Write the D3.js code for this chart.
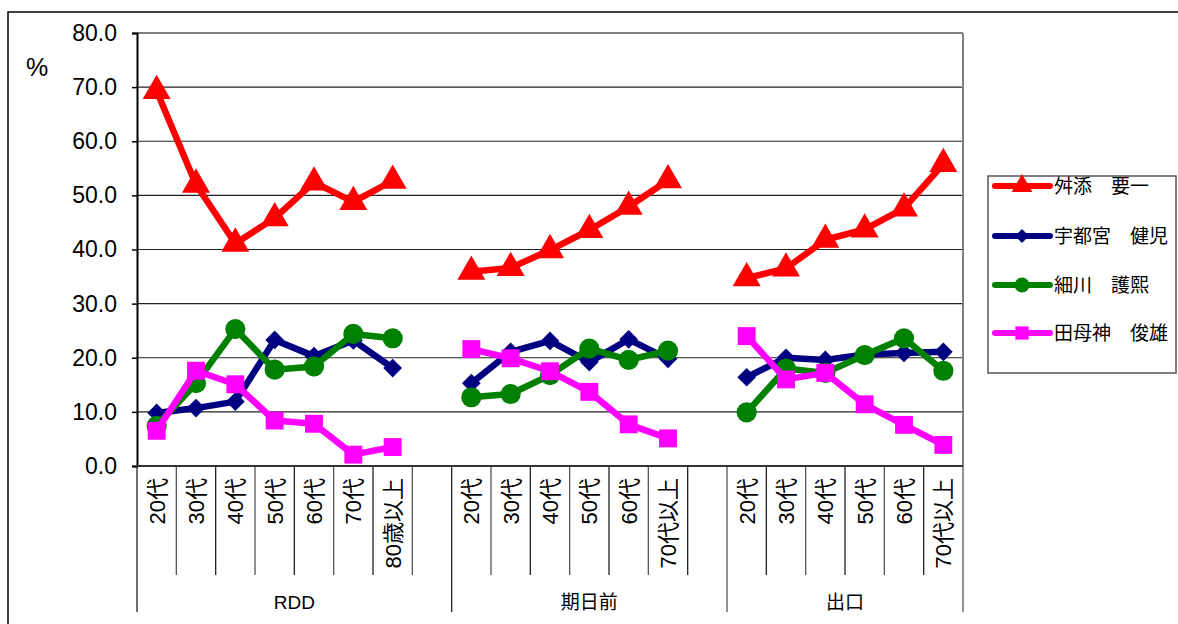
<!DOCTYPE html>
<html>
<head>
<meta charset="utf-8">
<script src="https://cdn.jsdelivr.net/npm/d3@7"></script>
<style>
  body { margin: 0; background: white; }
  text { font-family: Arial, "Liberation Sans", "Noto Sans CJK JP", sans-serif; }
</style>
</head>
<body>
<script>
const W = 1178, H = 624;

// survey groups and the age bands in each
const groups = ["RDD", "期日前", "出口"];
const rddAges = ["20代", "30代", "40代", "50代", "60代", "70代", "80歳以上"];
const earlyAges = ["20代", "30代", "40代", "50代", "60代", "70代以上"];
const exitAges = ["20代", "30代", "40代", "50代", "60代", "70代以上"];

const seriesNames = ["舛添　要一", "宇都宮　健児", "細川　護熙", "田母神　俊雄"];
const seriesColors = ["#ff0000", "#000080", "#008000", "#ff00ff"];

// values (%), per series: RDD / 期日前 / 出口
const masuzoe = [[69.3, 52.0, 41.1, 45.8, 52.4, 48.8, 52.7], [35.9, 36.6, 39.9, 43.6, 47.9, 52.8], [34.7, 36.5, 41.8, 43.7, 47.6, 55.8]];
const utsunomiya = [[9.8, 10.7, 11.9, 23.3, 20.3, 23.2, 18.1], [15.3, 21.1, 23.1, 19.2, 23.4, 19.8], [16.4, 20.0, 19.6, 20.6, 20.9, 21.1]];
const hosokawa = [[7.4, 15.3, 25.3, 17.8, 18.4, 24.4, 23.6], [12.7, 13.3, 16.8, 21.7, 19.6, 21.3], [9.9, 18.0, 17.2, 20.5, 23.6, 17.6]];
const tamogami = [[6.5, 17.6, 15.1, 8.4, 7.8, 2.1, 3.5], [21.6, 19.9, 17.5, 13.7, 7.7, 5.1], [24.0, 16.0, 17.2, 11.4, 7.6, 3.9]];
const seriesValues = [masuzoe, utsunomiya, hosokawa, tamogami];

const yTicks = [0, 10, 20, 30, 40, 50, 60, 70, 80];

// marker: symbol type, area, rotation
const markers = [
  { type: d3.symbolTriangle, size: 340, rot: 0 },
  { type: d3.symbolSquare, size: 175, rot: 45 },
  { type: d3.symbolCircle, size: 320, rot: 0 },
  { type: d3.symbolSquare, size: 320, rot: 0 }
];

// build slot list: each group gets its ages plus one empty slot (except the last)
const groupAges = [rddAges, earlyAges, exitAges];
const slots = [];
const groupSpans = [];
groupAges.forEach((ages, gi) => {
  const start = slots.length;
  ages.forEach((a, ai) => slots.push({ key: gi + "-" + ai, label: a }));
  if (gi < groupAges.length - 1) slots.push({ key: gi + "-blank", label: "" });
  groupSpans.push({ name: groups[gi], start: start, end: slots.length });
});

const plot = { left: 137, right: 963, top: 33, bottom: 466 };

const svg = d3.select("body").append("svg")
  .attr("width", W).attr("height", H);

// outer chart border
svg.append("rect")
  .attr("x", 8).attr("y", 12).attr("width", W + 10).attr("height", H + 10)
  .attr("fill", "white").attr("stroke", "black").attr("stroke-width", 1.5);

const x = d3.scaleBand()
  .domain(slots.map(d => d.key))
  .range([plot.left, plot.right])
  .paddingInner(0).paddingOuter(0);

const y = d3.scaleLinear().domain([0, 80]).range([plot.bottom, plot.top]);

// gridlines
svg.append("g").selectAll("line")
  .data(yTicks.filter(t => t > 0))
  .join("line")
  .attr("x1", plot.left).attr("x2", plot.right)
  .attr("y1", d => y(d)).attr("y2", d => y(d))
  .attr("stroke", d => d === 80 ? "#808080" : "#222")
  .attr("stroke-width", d => d === 80 ? 2 : 1.2);

// right border of plot
svg.append("line")
  .attr("x1", plot.right).attr("x2", plot.right)
  .attr("y1", plot.top).attr("y2", plot.bottom)
  .attr("stroke", "#808080").attr("stroke-width", 2);

// y axis
const yAxis = d3.axisLeft(y).tickValues(yTicks).tickFormat(d3.format(".1f")).tickSize(5).tickPadding(15);
const yg = svg.append("g").attr("transform", `translate(${plot.left},0)`).call(yAxis);
yg.select(".domain").attr("stroke", "black").attr("stroke-width", 2);
yg.selectAll(".tick line").attr("stroke", "black").attr("stroke-width", 1.5);
yg.selectAll(".tick text").attr("font-size", 23).attr("fill", "black")
  .style("font-family", "Arial, 'Liberation Sans', sans-serif");

svg.append("text").attr("x", 37).attr("y", 76)
  .attr("text-anchor", "middle").attr("font-size", 25).text("%");

// x axis: slot boundaries
const xg = svg.append("g");
const boundaries = d3.range(slots.length + 1).map(i => plot.left + i * x.bandwidth());
const groupEdges = new Set();
groupSpans.forEach(g => { groupEdges.add(g.start); groupEdges.add(g.end); });
xg.selectAll("line.tick")
  .data(boundaries)
  .join("line")
  .attr("x1", d => d).attr("x2", d => d)
  .attr("y1", plot.bottom)
  .attr("y2", (d, i) => groupEdges.has(i) ? 612 : 575)
  .attr("stroke", (d, i) => (i % 2 === 0) ? "#222" : "#555")
  .attr("stroke-width", 1.3);

xg.append("line")
  .attr("x1", plot.left).attr("x2", plot.right)
  .attr("y1", plot.bottom).attr("y2", plot.bottom)
  .attr("stroke", "#333").attr("stroke-width", 2);

// age labels, rotated
xg.selectAll("text.age")
  .data(slots.filter(d => d.label))
  .join("text")
  .attr("class", "age")
  .attr("transform", d => `translate(${x(d.key) + x.bandwidth() / 2 + 8},478) rotate(-90)`)
  .attr("text-anchor", "end")
  .attr("font-size", 22)
  .text(d => d.label);

// group labels
xg.selectAll("text.group")
  .data(groupSpans)
  .join("text")
  .attr("class", "group")
  .attr("x", d => (boundaries[d.start] + boundaries[d.end]) / 2)
  .attr("y", 609)
  .attr("text-anchor", "middle")
  .attr("font-size", 19)
  .text(d => d.name);

// series
const line = d3.line().x(d => d.x).y(d => d.y);
seriesValues.forEach((vals, si) => {
  const g = svg.append("g");
  const pts = vals.map((arr, gi) => arr.map((v, ai) => ({
    x: x(gi + "-" + ai) + x.bandwidth() / 2,
    y: y(v)
  })));
  pts.forEach(p => {
    g.append("path").attr("d", line(p))
      .attr("fill", "none").attr("stroke", seriesColors[si])
      .attr("stroke-width", 6.5).attr("stroke-linejoin", "round");
  });
  const m = markers[si];
  g.selectAll("path.mk")
    .data(pts.flat())
    .join("path")
    .attr("class", "mk")
    .attr("transform", d => `translate(${d.x},${d.y}) rotate(${m.rot})`)
    .attr("d", d3.symbol().type(m.type).size(m.size))
    .attr("fill", seriesColors[si]);
});

// legend
const lg = svg.append("g");
lg.append("rect").attr("x", 988).attr("y", 176).attr("width", 188).attr("height", 197)
  .attr("fill", "white").attr("stroke", "#555").attr("stroke-width", 1.5);
const legendY = [186, 236, 285, 333];
seriesNames.forEach((name, si) => {
  const ly = legendY[si];
  const m = markers[si];
  lg.append("line").attr("x1", 995).attr("x2", 1050).attr("y1", ly).attr("y2", ly)
    .attr("stroke", seriesColors[si]).attr("stroke-width", 6).attr("stroke-linecap", "round");
  lg.append("path").attr("transform", `translate(1022,${ly}) rotate(${m.rot})`)
    .attr("d", d3.symbol().type(m.type).size(m.size * 0.55))
    .attr("fill", seriesColors[si]);
  lg.append("text").attr("x", 1054).attr("y", ly + 7)
    .attr("font-size", 19)
    .style("font-family", "'Noto Sans CJK JP', sans-serif")
    .text(name);
});
</script>
</body>
</html>
